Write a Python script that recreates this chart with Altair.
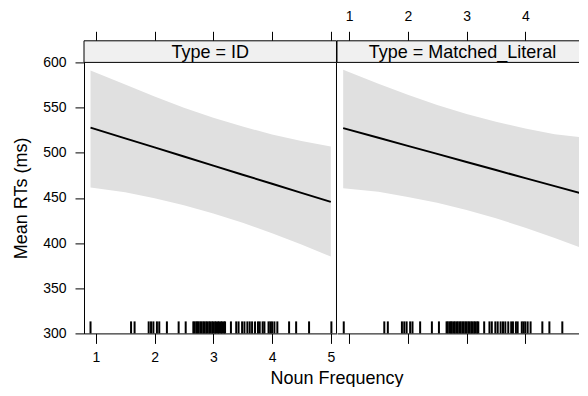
import altair as alt
import pandas as pd

# ---- data ----
types = ["ID", "Matched_Literal"]

x_id = [0.91, 1.5, 2.0, 2.5, 3.0, 3.5, 4.0, 4.5, 5.0]
fit_id = [527.8, 515.9, 505.9, 495.8, 485.7, 475.7, 465.6, 455.6, 445.6]
hi_id = [590.9, 575.5, 562.2, 549.8, 538.6, 528.9, 520.3, 512.9, 506.8]
lo_id = [461.4, 456.3, 449.6, 441.8, 432.8, 422.5, 410.9, 398.3, 385.0]

x_ml = [0.90, 1.5, 2.0, 2.5, 3.0, 3.5, 4.0, 4.5, 5.0]
fit_ml = [527.2, 516.5, 507.6, 498.7, 489.8, 480.8, 471.9, 463.0, 454.1]
hi_ml = [592.0, 576.3, 564.1, 552.9, 542.9, 534.2, 526.8, 520.5, 516.8]
lo_ml = [460.7, 456.7, 451.1, 444.5, 436.7, 427.4, 417.0, 405.5, 393.5]

rug_x = [0.91, 1.60, 1.66, 1.90, 1.94, 1.98, 2.04, 2.08, 2.21, 2.41, 2.53,
         2.66, 2.68, 2.71, 2.73, 2.75, 2.78, 2.80, 2.83, 2.85, 2.88, 2.90,
         2.93, 2.95, 2.98, 3.00, 3.03, 3.05, 3.08, 3.10, 3.13, 3.15, 3.18,
         3.20, 3.30, 3.39, 3.43, 3.49, 3.53, 3.58, 3.62, 3.66, 3.71, 3.76,
         3.79, 3.84, 3.87, 3.94, 3.97, 4.00, 4.04, 4.09, 4.29, 4.41, 4.63,
         5.01]

x_ticks = [1, 2, 3, 4, 5]
x_ticks_top_right = [1, 2, 3, 4]
y_ticks = [300, 350, 400, 450, 500, 550, 600]

# ---- layout / style ----
W1, W2, H = 252.5, 251, 271
STRIP = 21.6
DOM1 = [0.799, 5.097]
DOM2 = [0.795, 5.067]
FONT = "Liberation Sans"


def panel(label, xs, fit, lo, hi, W, dom, first):
    df = pd.DataFrame({"x": xs, "fit": fit, "lo": lo, "hi": hi})
    rug = pd.DataFrame({"x": rug_x})
    one = pd.DataFrame({"t": [label]})
    xsc = alt.Scale(domain=dom, nice=False, zero=False)
    ysc = alt.Scale(domain=[300, 600], nice=False, zero=False)

    if first:
        yax = alt.Axis(values=y_ticks, title="Mean RTs (ms)", orient="left",
                       tickSize=9, labelPadding=9, titlePadding=12, domain=True)
        bottom_ax = alt.Axis(orient="bottom", values=x_ticks, labels=True,
                             title="Noun Frequency", titleX=W, titleAlign="center",
                             tickSize=10, labelPadding=7, titlePadding=5, domain=True)
        top_ax = alt.Axis(orient="top", values=x_ticks, labels=False, title=None,
                          tickSize=9.5, offset=STRIP, domain=False)
    else:
        yax = None
        bottom_ax = alt.Axis(orient="bottom", values=x_ticks, labels=False, title=None,
                             tickSize=10, domain=True)
        top_ax = alt.Axis(orient="top", values=x_ticks_top_right, labels=True, title=None,
                          tickSize=9.5, labelPadding=8, offset=STRIP, domain=False)

    band = alt.Chart(df).mark_area(color="#e0e0e0", opacity=1).encode(
        x=alt.X("x:Q", scale=xsc, axis=bottom_ax),
        y=alt.Y("lo:Q", scale=ysc, axis=yax),
        y2="hi:Q",
    )
    line = alt.Chart(df).mark_line(color="black", strokeWidth=2).encode(
        x=alt.X("x:Q", scale=xsc, axis=None),
        y=alt.Y("fit:Q", scale=ysc, axis=yax),
    )
    rugs = alt.Chart(rug).mark_rule(color="black", strokeWidth=2).encode(
        x=alt.X("x:Q", scale=xsc, axis=top_ax),
        y=alt.value(H - 12),
        y2=alt.value(H),
    )
    strip = alt.Chart(one).mark_rect(fill="#f0f0f0", stroke="black", strokeWidth=1).encode(
        x=alt.value(0), x2=alt.value(W), y=alt.value(-STRIP), y2=alt.value(0)
    )
    text = alt.Chart(one).mark_text(font=FONT, fontSize=18, color="black",
                                    baseline="alphabetic", align="center").encode(
        x=alt.value(W / 2), y=alt.value(-4.2), text="t:N"
    )
    layers = [band, line, rugs, strip, text]
    if first:
        border = alt.Chart(one).mark_rule(color="black", strokeWidth=1).encode(
            x=alt.value(W), y=alt.value(0), y2=alt.value(H)
        )
        layers.append(border)
    return alt.layer(*layers).resolve_axis(x="independent").properties(width=W, height=H)


p1 = panel("Type = ID", x_id, fit_id, lo_id, hi_id, W1, DOM1, True)
p2 = panel("Type = Matched_Literal", x_ml, fit_ml, lo_ml, hi_ml, W2, DOM2, False)

chart = alt.hconcat(p1, p2, spacing=0, bounds="flush").properties(
    padding={"left": 4, "top": 0.4, "right": -10, "bottom": 0}
).configure_view(stroke=None).configure_axis(
    labelFont=FONT, titleFont=FONT, labelFontSize=14, titleFontSize=18,
    titleFontWeight="normal", labelColor="black", titleColor="black",
    tickColor="black", domainColor="black", grid=False, tickWidth=1, domainWidth=1,
)

chart.save("out.html", embed_options={"renderer": "svg", "actions": False})
